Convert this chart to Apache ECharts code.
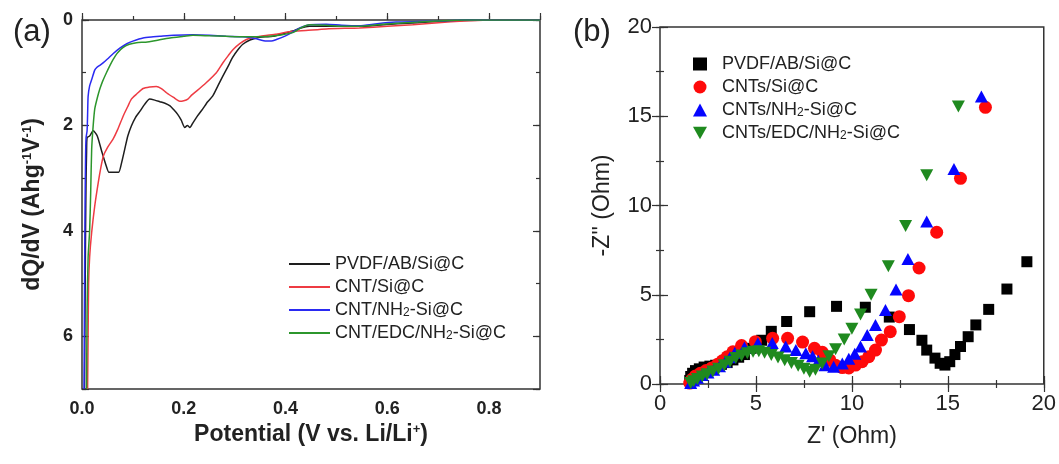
<!DOCTYPE html>
<html>
<head>
<meta charset="utf-8">
<title>dQ/dV and EIS</title>
<style>
  html, body { margin: 0; padding: 0; background: #fff; }
  #chart { width: 1059px; height: 464px; }
</style>
</head>
<body>
<div id="chart"></div>
<script src="https://cdn.jsdelivr.net/npm/echarts@6/dist/echarts.min.js"></script>
<script>
// (a) differential capacity curves, [potential (V), dQ/dV]
var dqdvPvdf = [[0.005,7.0],[0.006,5.5],[0.007,4.0],[0.008,3.0],[0.009,2.5],[0.01,2.23],[0.015,2.2],[0.022,2.1],[0.03,2.2],[0.039,2.5],[0.047,2.75],[0.053,2.89],[0.062,2.89],[0.072,2.89],[0.078,2.7],[0.084,2.45],[0.09,2.2],[0.097,2.01],[0.105,1.85],[0.114,1.73],[0.123,1.6],[0.133,1.5],[0.143,1.52],[0.153,1.55],[0.163,1.58],[0.173,1.63],[0.18,1.7],[0.188,1.79],[0.195,1.9],[0.202,2.04],[0.207,2.0],[0.212,2.04],[0.218,1.95],[0.227,1.82],[0.237,1.69],[0.247,1.55],[0.257,1.44],[0.267,1.25],[0.277,1.06],[0.287,0.88],[0.296,0.71],[0.306,0.57],[0.316,0.46],[0.33,0.38],[0.343,0.34],[0.36,0.32],[0.375,0.31],[0.395,0.26],[0.414,0.21],[0.43,0.15],[0.447,0.12],[0.48,0.12],[0.52,0.12],[0.545,0.12],[0.58,0.1],[0.62,0.07],[0.66,0.05],[0.7,0.03],[0.75,0.01],[0.8,0.0],[0.9,0.0]];
var dqdvCnt = [[0.011,7.0],[0.012,6.0],[0.013,5.0],[0.015,4.5],[0.019,4.03],[0.025,3.53],[0.032,3.08],[0.037,2.8],[0.042,2.58],[0.05,2.42],[0.061,2.26],[0.07,2.08],[0.081,1.82],[0.09,1.64],[0.097,1.5],[0.108,1.4],[0.12,1.3],[0.133,1.27],[0.146,1.26],[0.156,1.3],[0.166,1.38],[0.18,1.47],[0.192,1.54],[0.2,1.53],[0.208,1.5],[0.216,1.42],[0.225,1.35],[0.244,1.19],[0.264,1.0],[0.277,0.81],[0.287,0.68],[0.297,0.56],[0.31,0.45],[0.323,0.37],[0.336,0.33],[0.349,0.31],[0.38,0.27],[0.41,0.22],[0.44,0.2],[0.48,0.17],[0.545,0.15],[0.6,0.12],[0.65,0.09],[0.7,0.05],[0.75,0.02],[0.8,0.0],[0.9,0.0]];
var dqdvNh2 = [[0.004,7.0],[0.005,5.0],[0.006,3.5],[0.007,2.6],[0.008,2.23],[0.01,2.1],[0.011,1.8],[0.012,1.45],[0.015,1.25],[0.02,1.1],[0.025,0.95],[0.029,0.9],[0.035,0.86],[0.042,0.81],[0.05,0.74],[0.061,0.64],[0.075,0.53],[0.088,0.45],[0.1,0.4],[0.12,0.34],[0.14,0.32],[0.153,0.31],[0.18,0.29],[0.218,0.28],[0.25,0.29],[0.283,0.31],[0.316,0.32],[0.34,0.35],[0.362,0.4],[0.372,0.4],[0.382,0.37],[0.4,0.3],[0.414,0.23],[0.43,0.14],[0.447,0.09],[0.48,0.08],[0.51,0.1],[0.545,0.11],[0.58,0.07],[0.617,0.04],[0.66,0.03],[0.7,0.02],[0.75,0.0],[0.9,0.0]];
var dqdvEdc = [[0.009,7.0],[0.01,5.5],[0.012,4.5],[0.015,4.0],[0.017,3.3],[0.019,2.45],[0.022,2.0],[0.025,1.69],[0.03,1.48],[0.035,1.31],[0.041,1.15],[0.048,1.0],[0.055,0.86],[0.061,0.75],[0.07,0.62],[0.081,0.52],[0.093,0.46],[0.107,0.43],[0.125,0.42],[0.14,0.4],[0.155,0.37],[0.173,0.34],[0.2,0.31],[0.218,0.29],[0.25,0.3],[0.283,0.31],[0.316,0.32],[0.349,0.32],[0.38,0.3],[0.414,0.24],[0.43,0.15],[0.447,0.09],[0.48,0.1],[0.51,0.12],[0.545,0.12],[0.58,0.09],[0.617,0.06],[0.66,0.04],[0.7,0.02],[0.75,0.0],[0.9,0.0]];

// (b) Nyquist plots, [Z' (Ohm), -Z'' (Ohm)]
var eisPvdf = [[1.55,0.2],[1.6,0.42],[1.7,0.6],[1.85,0.75],[2.05,0.85],[2.3,0.95],[2.6,1.0],[2.9,1.05],[3.2,1.1],[3.5,1.2],[3.8,1.35],[4.1,1.5],[4.4,1.65],[4.75,2.0],[5.3,2.45],[5.8,2.95],[6.6,3.5],[7.8,4.05],[9.2,4.35],[10.7,4.3],[11.95,3.75],[13.0,3.05],[13.65,2.45],[13.9,1.9],[14.33,1.45],[14.6,1.16],[14.85,1.06],[15.1,1.25],[15.37,1.65],[15.66,2.1],[16.06,2.65],[16.46,3.31],[17.13,4.18],[18.08,5.32],[19.12,6.85]];
var eisCnt = [[1.55,0.05],[1.65,0.25],[1.85,0.45],[2.1,0.6],[2.4,0.75],[2.7,0.9],[3.0,1.1],[3.25,1.3],[3.5,1.52],[3.8,1.8],[4.25,2.15],[4.97,2.37],[5.87,2.56],[6.65,2.56],[7.43,2.35],[8.05,2.0],[8.46,1.78],[8.85,1.35],[9.15,1.05],[9.5,0.92],[9.84,0.9],[10.19,1.06],[10.53,1.25],[10.88,1.53],[11.23,1.9],[11.54,2.46],[12.0,2.93],[12.47,3.77],[12.95,4.95],[13.5,6.5],[14.42,8.5],[15.66,11.52],[16.96,15.5]];
var eisNh2 = [[1.6,0.05],[1.75,0.2],[1.95,0.35],[2.2,0.5],[2.5,0.65],[2.8,0.8],[3.1,1.0],[3.4,1.25],[3.65,1.5],[3.9,1.75],[4.4,2.05],[5.1,2.28],[5.85,2.3],[6.55,2.1],[7.08,1.9],[7.6,1.72],[7.95,1.55],[8.25,1.3],[8.6,1.05],[9.05,0.97],[9.5,1.15],[9.84,1.42],[10.15,1.7],[10.45,2.1],[10.8,2.74],[11.23,3.31],[11.75,4.15],[12.3,5.3],[12.92,7.0],[13.9,9.1],[15.32,12.05],[16.75,16.1]];
var eisEdc = [[1.6,0.05],[1.75,0.15],[1.95,0.28],[2.2,0.42],[2.45,0.55],[2.75,0.7],[3.05,0.85],[3.35,1.05],[3.65,1.25],[3.95,1.45],[4.25,1.6],[4.55,1.72],[4.85,1.8],[5.15,1.83],[5.45,1.75],[5.8,1.62],[6.15,1.48],[6.5,1.33],[6.85,1.18],[7.2,1.02],[7.5,0.85],[7.8,0.68],[8.1,0.8],[8.45,1.15],[8.8,1.55],[9.15,1.95],[9.6,2.5],[10.0,3.1],[10.45,3.9],[11.0,5.0],[11.9,6.6],[12.8,8.85],[13.9,11.7],[15.55,15.55]];

// the (b) names carry a trailing space so the two legends do not share items
var namesA = ['PVDF/AB/Si@C', 'CNT/Si@C', 'CNT/NH2-Si@C', 'CNT/EDC/NH2-Si@C'];
var namesB = ['PVDF/AB/Si@C ', 'CNTs/Si@C', 'CNTs/NH2-Si@C', 'CNTs/EDC/NH2-Si@C'];
var lineColors = ['#1e1e1e', '#ee3b43', '#2a2af2', '#2c962c'];
var dotColors = ['#000000', '#ff0a0a', '#0505ff', '#1f8a1f'];
var xTicksA = [0, 0.2, 0.4, 0.6, 0.8];
var yTicksA = [0, 2, 4, 6];

var FONT = '"Liberation Sans", Arial, sans-serif';
var INK = '#222';

function axis(grid, pos, min, max, step, len, extra) {
  var a = {
    type: 'value', gridIndex: grid, position: pos,
    min: min, max: max, interval: step,
    axisLine: { show: false },
    splitLine: { show: false },
    axisTick: { show: true, inside: true, length: len, lineStyle: { color: '#333', width: 1.2 } },
    axisLabel: { show: false }
  };
  for (var k in extra) a[k] = extra[k];
  return a;
}

var subRich = {
  s: { fontSize: 12, fontFamily: FONT, color: INK, verticalAlign: 'bottom' }
};
function subName(n) { return n.trim().replace('NH2', 'NH{s|2}'); }

var chart = echarts.init(document.getElementById('chart'));

var option = {
  animation: false,
  title: [
    { text: '(a)', left: 8, top: 12, textStyle: { fontSize: 31, fontWeight: 'normal', fontFamily: FONT, color: INK } },
    { text: '(b)', left: 568, top: 12, textStyle: { fontSize: 31, fontWeight: 'normal', fontFamily: FONT, color: INK } }
  ],
  grid: [
    { left: 82, top: 20, width: 458, height: 369, show: true, borderColor: '#333', borderWidth: 1.5, backgroundColor: 'transparent' },
    { left: 660, top: 27, width: 385, height: 357, show: true, borderColor: '#333', borderWidth: 1.5, backgroundColor: 'transparent' }
  ],
  legend: [
    {
      data: namesA, orient: 'vertical', left: 284, top: 250, itemWidth: 41, itemHeight: 2, itemGap: 5,
      icon: 'rect',
      formatter: subName,
      textStyle: { fontSize: 18, fontFamily: FONT, color: INK, rich: subRich }
    },
    {
      data: namesB, orient: 'vertical', left: 688, top: 50, itemWidth: 14, itemHeight: 13, itemGap: 5,
      formatter: subName,
      textStyle: { fontSize: 18, fontFamily: FONT, color: INK, padding: [0, 0, 0, 10], rich: subRich }
    }
  ],
  xAxis: [
    axis(0, 'bottom', 0, 0.9, 0.2, 7, {
      name: '{b|Potential (V vs. Li/Li}{p|+}{b|)}', nameLocation: 'middle', nameGap: 33,
      nameTextStyle: { rich: {
        b: { fontSize: 23, fontWeight: 'bold', fontFamily: FONT, color: INK },
        p: { fontSize: 13, fontWeight: 'bold', fontFamily: FONT, color: INK, verticalAlign: 'top' }
      } },
      axisLabel: { show: true, margin: 11, fontSize: 18, fontWeight: 'bold', fontFamily: FONT, color: INK,
        formatter: function (v) { return xTicksA.indexOf(Math.round(v * 10) / 10) >= 0 ? v.toFixed(1) : ''; } }
    }),
    axis(0, 'bottom', 0, 0.9, 0.1, 4, {}),
    axis(1, 'bottom', 0, 20, 5, 8, {
      name: "Z' (Ohm)", nameLocation: 'middle', nameGap: 41,
      nameTextStyle: { fontSize: 23, fontFamily: FONT, color: INK },
      axisLabel: { show: true, margin: 9, fontSize: 22, fontFamily: FONT, color: INK }
    }),
    axis(1, 'bottom', 0, 20, 2.5, 4, {}),
    axis(1, 'top', 0, 20, 5, 8, {}),
    axis(1, 'top', 0, 20, 2.5, 4, {})
  ],
  yAxis: [
    axis(0, 'left', 0, 7, 2, 7, {
      inverse: true,
      name: '{b|dQ/dV (Ahg}{p|-1}{b|V}{p|-1}{b|)}', nameLocation: 'middle', nameGap: 38,
      nameTextStyle: { rich: {
        b: { fontSize: 23, fontWeight: 'bold', fontFamily: FONT, color: INK },
        p: { fontSize: 13, fontWeight: 'bold', fontFamily: FONT, color: INK, verticalAlign: 'top' }
      } },
      axisLabel: { show: true, margin: 9, fontSize: 18, fontWeight: 'bold', fontFamily: FONT, color: INK,
        formatter: function (v) { return yTicksA.indexOf(v) >= 0 ? String(v) : ''; } }
    }),
    axis(0, 'left', 0, 7, 1, 4, { inverse: true }),
    axis(0, 'right', 0, 7, 2, 7, { inverse: true }),
    axis(0, 'right', 0, 7, 1, 4, { inverse: true }),
    axis(1, 'left', 0, 20, 5, 8, {
      name: "-Z'' (Ohm)", nameLocation: 'middle', nameGap: 46,
      nameTextStyle: { fontSize: 23, fontFamily: FONT, color: INK },
      axisLabel: { show: true, margin: 8, fontSize: 22, fontFamily: FONT, color: INK }
    }),
    axis(1, 'left', 0, 20, 2.5, 4, {}),
    axis(1, 'right', 0, 20, 5, 8, {}),
    axis(1, 'right', 0, 20, 2.5, 4, {})
  ],
  series: []
};

[dqdvPvdf, dqdvCnt, dqdvNh2, dqdvEdc].forEach(function (d, i) {
  option.series.push({
    name: namesA[i], type: 'line', xAxisIndex: 0, yAxisIndex: 0,
    data: d, symbol: 'none', smooth: 0.2,
    color: lineColors[i],
    lineStyle: { color: lineColors[i], width: 1.5 }
  });
});

var symbols = ['rect', 'circle', 'triangle', 'path://M0,0L10,0L5,9Z'];
var sizes = [11, 13, [13, 12], [13, 12]];
[eisPvdf, eisCnt, eisNh2, eisEdc].forEach(function (d, i) {
  option.series.push({
    name: namesB[i], type: 'scatter', xAxisIndex: 2, yAxisIndex: 4,
    data: d, symbol: symbols[i], symbolSize: sizes[i],
    itemStyle: { color: dotColors[i], opacity: 1 }
  });
});

chart.setOption(option);
</script>
</body>
</html>
